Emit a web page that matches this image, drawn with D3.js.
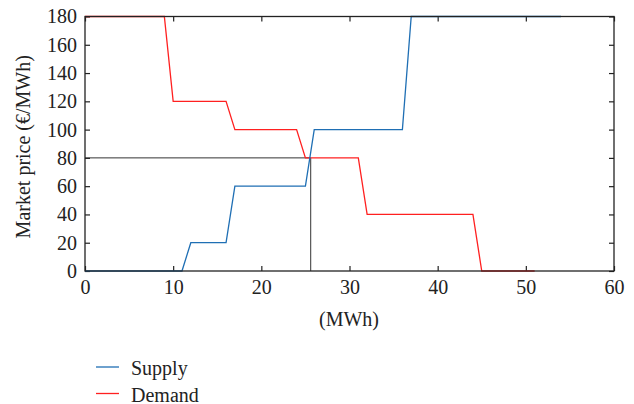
<!DOCTYPE html>
<html><head><meta charset="utf-8">
<script src="https://cdn.jsdelivr.net/npm/d3@7"></script>
<style>body{margin:0;background:#fff}</style>
</head><body>
<svg id="c" width="634" height="404"></svg>
<script>
const supplyX = [0, 11, 12, 16, 17, 25, 26, 36, 37, 54];
const supplyY = [0, 0, 20, 20, 60, 60, 100, 100, 180, 180];
const demandX = [0, 9, 10, 16, 17, 24, 25, 31, 32, 44, 45, 51];
const demandY = [180, 180, 120, 120, 100, 100, 80, 80, 40, 40, 0, 0];
const equilibrium = {q: 25.6, p: 80};
const xTicks = [0, 10, 20, 30, 40, 50, 60];
const yTicks = [0, 20, 40, 60, 80, 100, 120, 140, 160, 180];
const seriesNames = ["Supply", "Demand"];
const seriesColors = ["#1f6fb4", "#ff2020"];

const FONT = "'Liberation Serif', 'DejaVu Serif', serif";
const FS = 20;
const svg = d3.select("#c");
const L = 85, R = 614, T = 16.5, B = 271;
const x = d3.scaleLinear().domain([0, 60]).range([L, R]);
const y = d3.scaleLinear().domain([0, 180]).range([B, T]);

const tl = 5;
svg.append("g").attr("transform", `translate(0,${B})`)
  .call(d3.axisBottom(x).tickValues(xTicks).tickSizeInner(-tl).tickSizeOuter(0).tickPadding(9))
  .call(g => g.select(".domain").remove())
  .call(g => g.selectAll("text").attr("font-size", FS).attr("font-family", FONT).attr("fill", "#222").attr("dy", "0.7em"));
svg.append("g").attr("transform", `translate(0,${T})`)
  .call(d3.axisTop(x).tickValues(xTicks).tickSizeInner(-tl).tickSizeOuter(0).tickFormat(""))
  .call(g => g.select(".domain").remove());
svg.append("g").attr("transform", `translate(${L},0)`)
  .call(d3.axisLeft(y).tickValues(yTicks).tickSizeInner(-tl).tickSizeOuter(0).tickPadding(8))
  .call(g => g.select(".domain").remove())
  .call(g => g.selectAll("text").attr("font-size", FS).attr("font-family", FONT).attr("fill", "#222"));
svg.append("g").attr("transform", `translate(${R},0)`)
  .call(d3.axisRight(y).tickValues(yTicks).tickSizeInner(-tl).tickSizeOuter(0).tickFormat(""))
  .call(g => g.select(".domain").remove());
svg.selectAll(".tick line").attr("stroke", "#222").attr("stroke-width", 1.2);

const line = d3.line().x(d => x(d[0])).y(d => y(d[1]));
svg.append("path").attr("d", line([[0, equilibrium.p], [equilibrium.q, equilibrium.p], [equilibrium.q, 0]]))
  .attr("fill", "none").attr("stroke", "#333").attr("stroke-width", 1);

const sData = supplyX.map((v, i) => [v, supplyY[i]]);
const dData = demandX.map((v, i) => [v, demandY[i]]);
svg.append("path").attr("d", line(dData)).attr("fill", "none").attr("stroke", seriesColors[1]).attr("stroke-width", 1.3);
svg.append("path").attr("d", line(sData)).attr("fill", "none").attr("stroke", seriesColors[0]).attr("stroke-width", 1.3);

svg.append("rect").attr("x", L).attr("y", T).attr("width", R - L).attr("height", B - T)
  .attr("fill", "none").attr("stroke", "#222").attr("stroke-width", 1.3);

svg.append("text").attr("transform", `translate(30,${(T + B) / 2 + 3}) rotate(-90)`)
  .attr("text-anchor", "middle").attr("font-size", FS).attr("font-family", FONT).attr("fill", "#222")
  .text("Market price (€/MWh)");
svg.append("text").attr("x", 349).attr("y", 326).attr("text-anchor", "middle")
  .attr("font-size", FS).attr("font-family", FONT).attr("fill", "#222").text("(MWh)");

seriesNames.forEach((n, i) => {
  const yy = 367 + i * 26.5;
  svg.append("line").attr("x1", 96).attr("x2", 119).attr("y1", yy).attr("y2", yy)
    .attr("stroke", seriesColors[i]).attr("stroke-width", 1.3);
  svg.append("text").attr("x", 131).attr("y", yy + 8).attr("font-size", FS)
    .attr("font-family", FONT).attr("fill", "#222").text(n);
});
</script>
</body></html>
